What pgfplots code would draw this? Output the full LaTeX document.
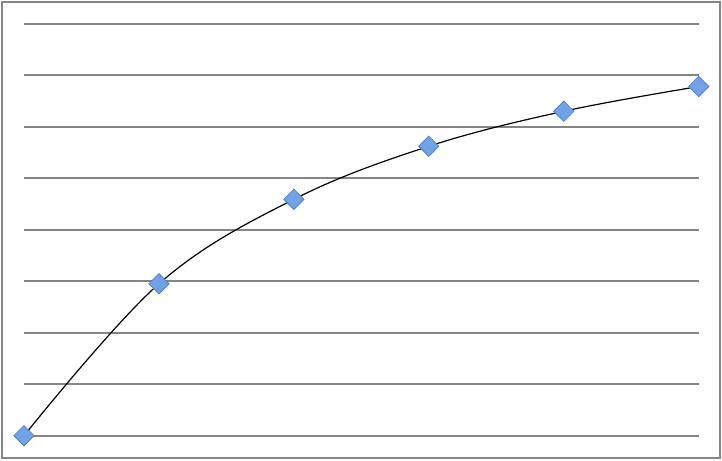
\documentclass[border=0pt]{standalone}
\usepackage{pgfplots}
\pgfplotsset{compat=1.18}
\definecolor{gridgray}{HTML}{858585}
\definecolor{markfill}{HTML}{72A2E6}
\definecolor{markedge}{HTML}{4677C2}
\begin{document}
\begin{tikzpicture}
\begin{axis}[
 scale only axis,
 width=674.7pt,height=412pt,
 xmin=0,xmax=5,ymin=0,ymax=8,
 xtick=\empty,ytick={0,...,8},yticklabels={},
 major tick length=0pt,
 axis line style={draw=none},
 ymajorgrids,
 grid style={gridgray,line width=1.8pt},
 clip=false]
\addplot[only marks,mark=square*,mark size=7.2pt,
 mark options={rotate=45,fill=markfill,draw=markedge,line width=0.6pt}]
 coordinates {(0,0) (1,2.95) (2,4.59) (3,5.62) (4,6.30) (5,6.78)};
\addplot[black,line width=1.2pt,smooth,tension=0.6,no markers]
 coordinates {(0,0) (1,2.95) (2,4.59) (3,5.62) (4,6.30) (5,6.78)};
\coordinate (O) at (rel axis cs:0,0);
\end{axis}
\draw[gridgray,line width=2pt] ([xshift=-22pt,yshift=-22pt]O) rectangle ([xshift=695.7pt,yshift=433.7pt]O);
\path[use as bounding box] ([xshift=-24pt,yshift=-24.3pt]O) rectangle ([xshift=698pt,yshift=435.7pt]O);
\end{tikzpicture}
\end{document}
